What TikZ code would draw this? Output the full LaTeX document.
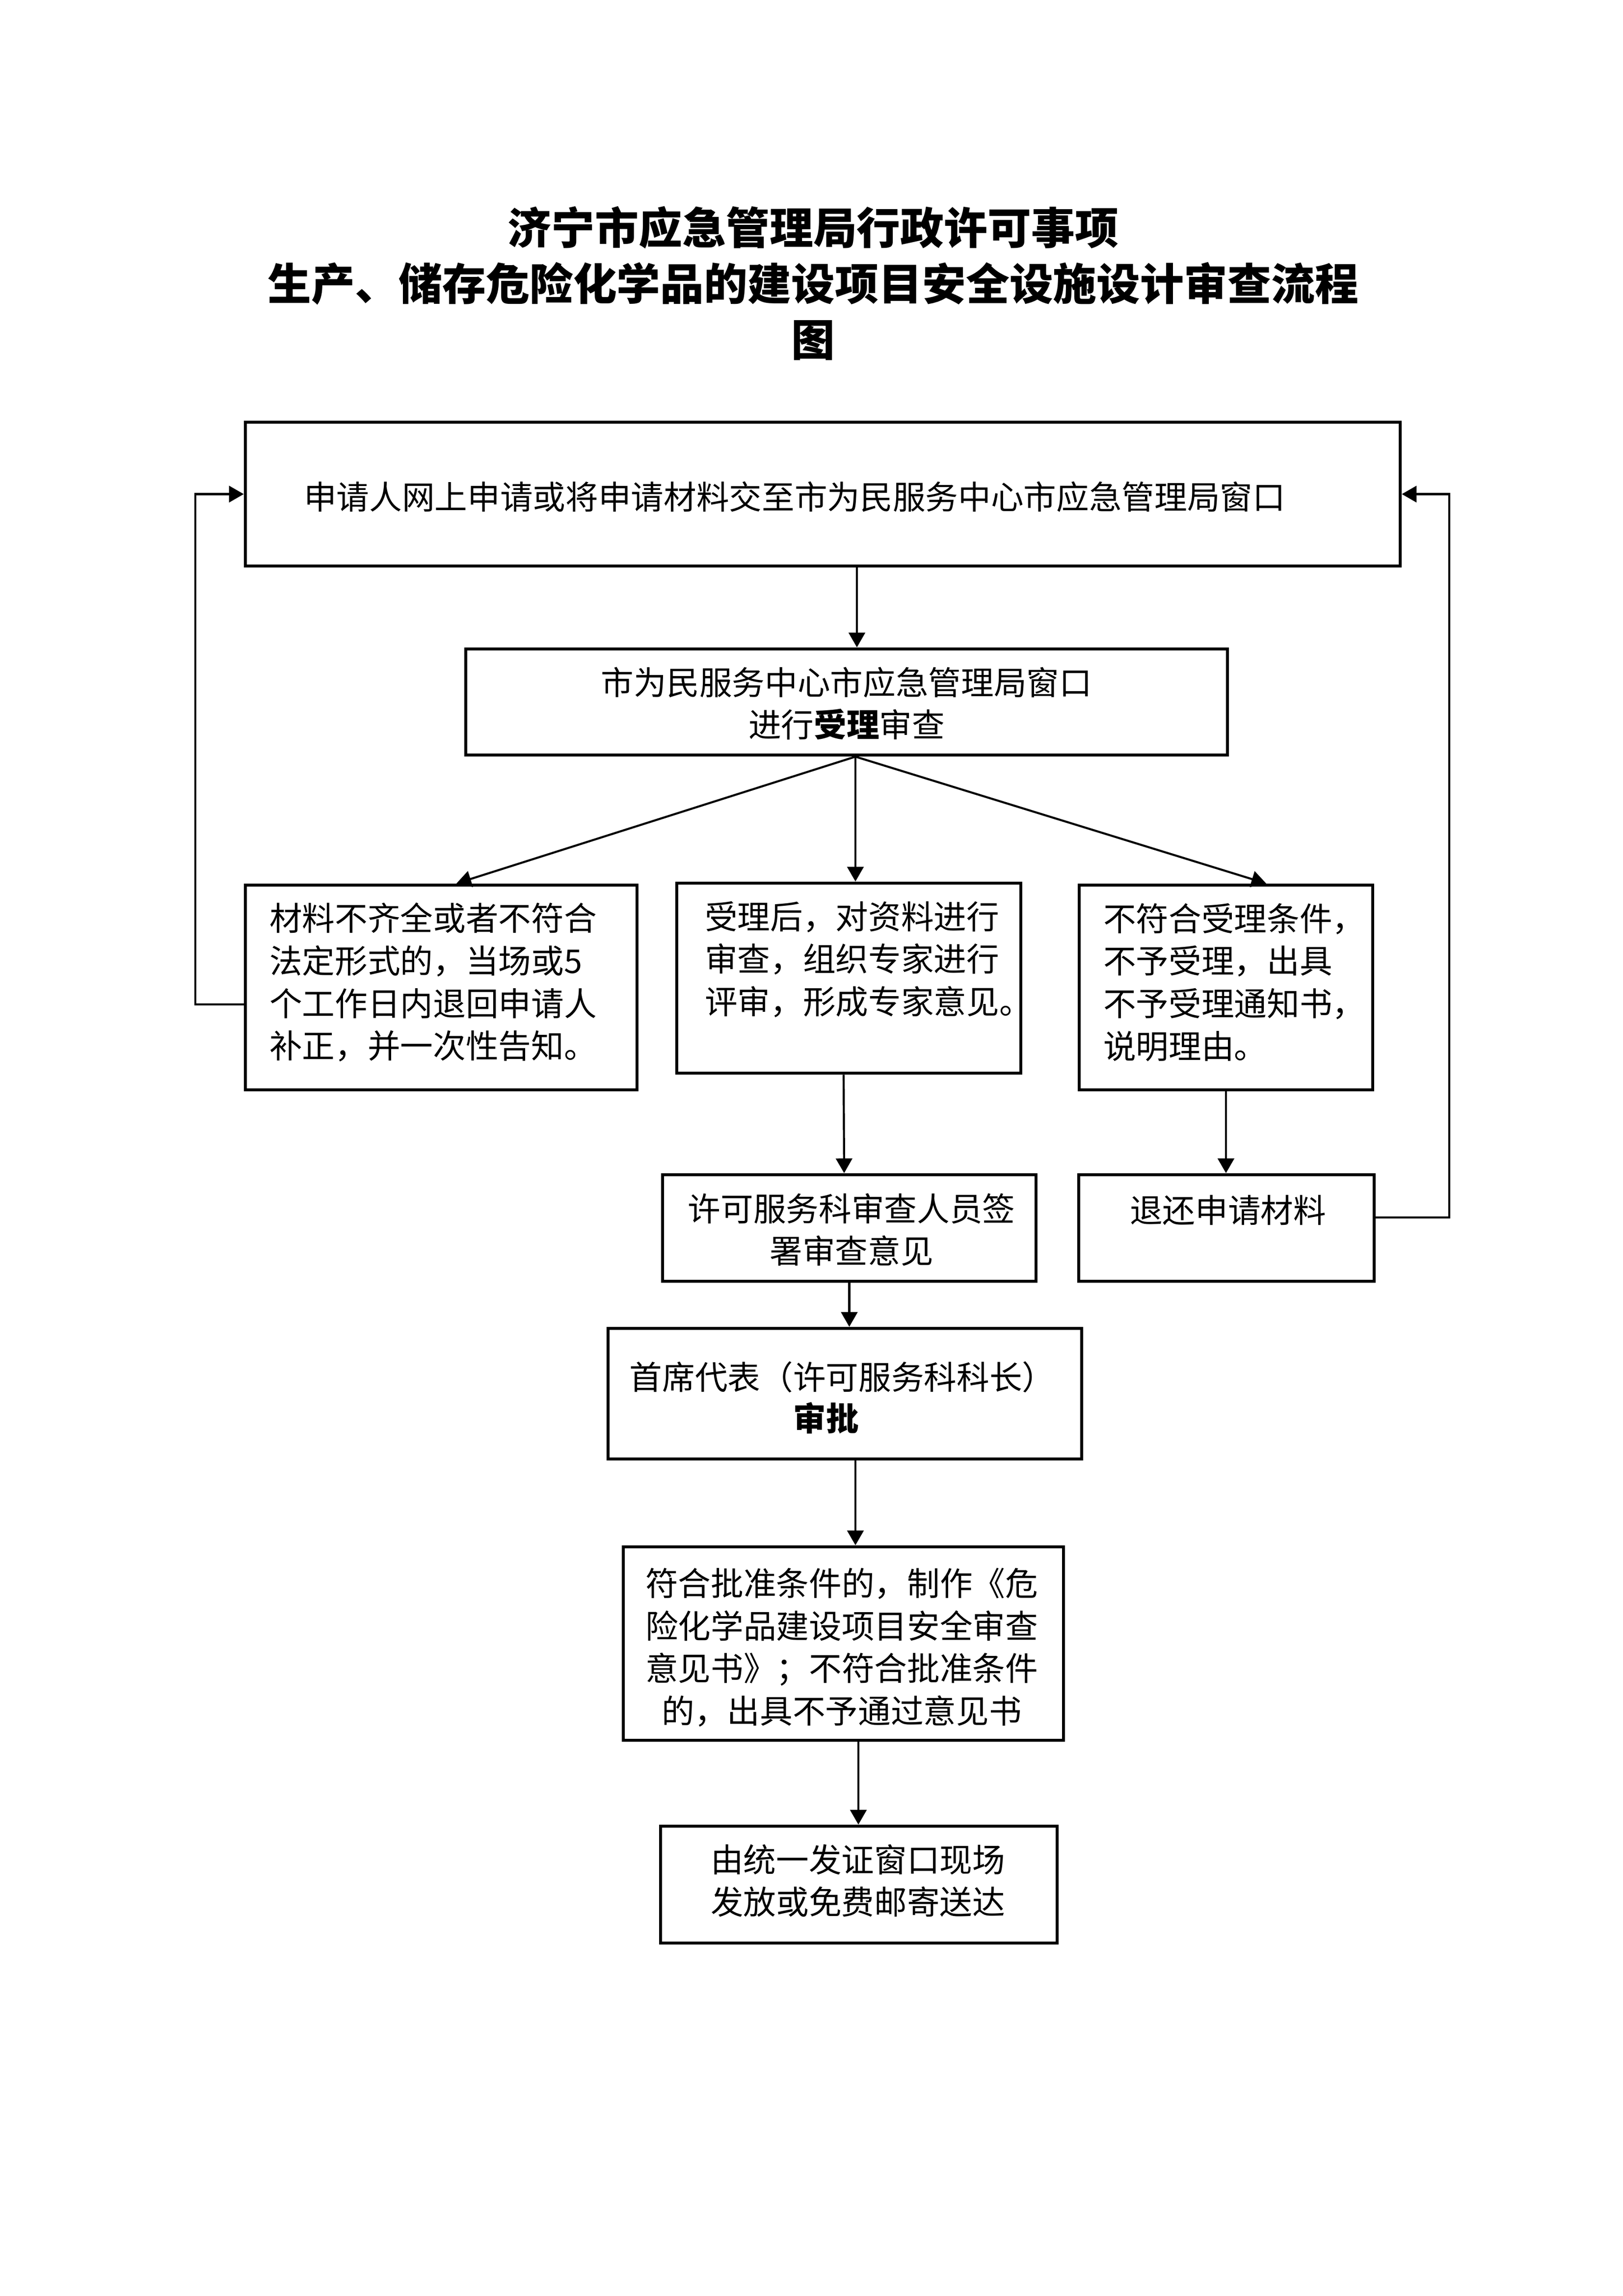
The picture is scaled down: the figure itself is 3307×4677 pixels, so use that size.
\documentclass[tikz,border=0pt]{standalone}
\usepackage{fontspec}
\setmainfont{Noto Sans CJK SC}
\usetikzlibrary{arrows.meta,calc}
\tikzset{
  box/.style={draw, line width=1.2pt, rectangle, inner sep=0pt},
  txt/.style={inner sep=0pt, font=\fontsize{12pt}{15.58pt}\selectfont},
  arr/.style={line width=0.75pt, -{Triangle[length=5.4pt,width=6pt]}},
}
\begin{document}
\begin{tikzpicture}[x=0.18pt,y=-0.18pt]
\useasboundingbox (0,0) rectangle (3307,4677);
% title
\node[inner sep=0pt, align=center, font=\fontsize{16pt}{20.5pt}\selectfont\bfseries] (title) at (1657,577)
  {济宁市应急管理局行政许可事项\\生产、储存危险化学品的建设项目安全设施设计审查流程\\图};
% boxes
\node[box, minimum width=2353*0.18pt, minimum height=293*0.18pt] (b1) at (1676.5,1006.5) {};
\node[box, minimum width=1552*0.18pt, minimum height=216*0.18pt] (b2) at (1725,1430) {};
\node[box, minimum width=798*0.18pt, minimum height=417*0.18pt] (L) at (899,2011.5) {};
\node[box, minimum width=701*0.18pt, minimum height=387*0.18pt] (M) at (1729.5,1992.5) {};
\node[box, minimum width=598*0.18pt, minimum height=417*0.18pt] (R) at (2498,2011.5) {};
\node[box, minimum width=761*0.18pt, minimum height=217*0.18pt] (X) at (1730.5,2501.5) {};
\node[box, minimum width=602*0.18pt, minimum height=217*0.18pt] (T) at (2499,2501.5) {};
\node[box, minimum width=965*0.18pt, minimum height=266*0.18pt] (S) at (1721.5,2839) {};
\node[box, minimum width=897*0.18pt, minimum height=394*0.18pt] (F) at (1718.5,3348) {};
\node[box, minimum width=808*0.18pt, minimum height=238*0.18pt] (U) at (1750,3839) {};
% texts
\node[txt, anchor=west] (b1t) at (618,1012) {申请人网上申请或将申请材料交至市为民服务中心市应急管理局窗口};
\node[txt, align=center] (b2t) at (1725,1433) {市为民服务中心市应急管理局窗口\\进行\textbf{受理}审查};
\node[txt, align=left, anchor=west] (Lt) at (548,2001) {材料不齐全或者不符合\\法定形式的，当场或5\\个工作日内退回申请人\\补正，并一次性告知。};
\node[txt, align=left, anchor=west] (Mt) at (1435,1954) {受理后，对资料进行\\审查，组织专家进行\\评审，形成专家意见。};
\node[txt, align=left, anchor=west] (Rt) at (2247,2001) {不符合受理条件，\\不予受理，出具\\不予受理通知书，\\说明理由。};
\node[txt, align=center] (Xt) at (1735,2505) {许可服务科审查人员签\\署审查意见};
\node[txt] (Tt) at (2502,2465) {退还申请材料};
\node[txt] (St1) at (1716,2805) {首席代表（许可服务科科长）};
\node[txt] (St2) at (1683,2889) {\textbf{审批}};
\node[txt, align=center] (Ft) at (1715,3356) {符合批准条件的，制作《危\\险化学品建设项目安全审查\\意见书》；不符合批准条件\\的，出具不予通过意见书};
\node[txt, align=center] (Ut) at (1748,3831) {由统一发证窗口现场\\发放或免费邮寄送达};
% connectors
\draw[arr] ($(b1.south)+(69.5,0)$) -- ($(b2.north)+(21,0)$);
\draw[arr] ($(b2.south)+(18,0)$) -- ($(L.north)+(31,0)$);
\draw[arr] ($(b2.south)+(18,0)$) -- ($(M.north)+(13.5,0)$);
\draw[arr] ($(b2.south)+(18,0)$) -- ($(R.north)+(82,0)$);
\draw[arr] ($(M.south)+(-10.5,0)$) -- ($(X.north)+(-10.5,0)$);
\draw[arr] (R.south) -- (R.south |- T.north);
\draw[arr] (X.south) -- (X.south |- S.north);
\draw[arr] ($(S.south)+(21.5,0)$) coordinate (s1) -- (s1 |- F.north);
\draw[arr] ($(F.south)+(30.5,0)$) coordinate (f1) -- (f1 |- U.north);
\draw[arr] ($(L.west)+(0,34.5)$) -- ++(-99,0) |- (b1.west);
\draw[arr] ($(T.east)+(0,-21.5)$) -- ++(150,0) |- (b1.east);
\end{tikzpicture}
\end{document}
